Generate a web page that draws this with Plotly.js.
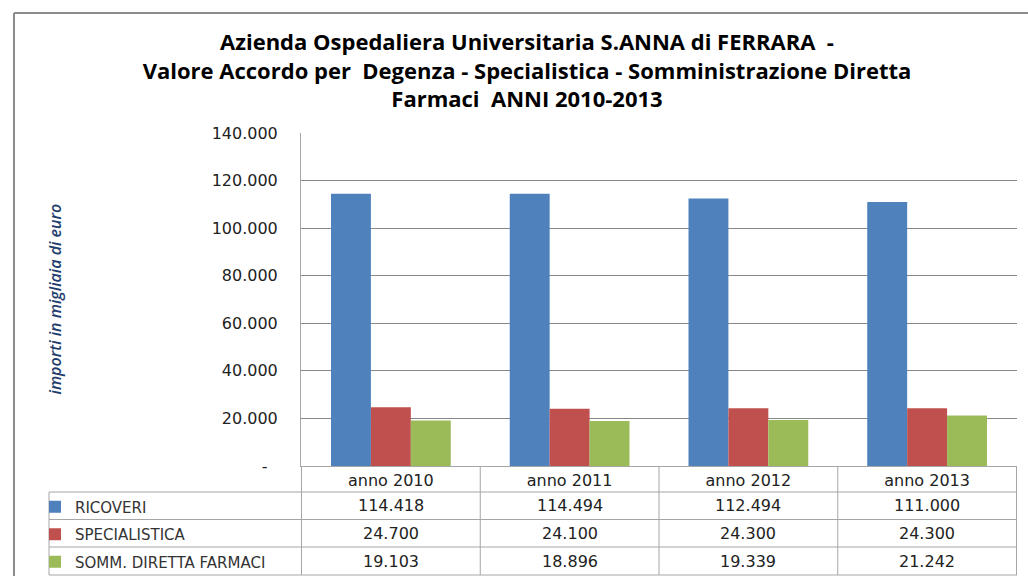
<!DOCTYPE html>
<html>
<head>
<meta charset="utf-8">
<script src="https://cdn.plot.ly/plotly-3.0.1.min.js"></script>
<style>
  html, body { margin: 0; padding: 0; background: #ffffff; }
  #chart { width: 1028px; height: 576px; }
</style>
</head>
<body>
<div id="chart"></div>
<script>
// ---- data ----
var categories = ["anno 2010", "anno 2011", "anno 2012", "anno 2013"];
var seriesNames = ["RICOVERI", "SPECIALISTICA", "SOMM. DIRETTA FARMACI"];
var ricoveri = [114418, 114494, 112494, 111000];
var specialistica = [24700, 24100, 24300, 24300];
var farmaci = [19103, 18896, 19339, 21242];
var yTickValues = [0, 20000, 40000, 60000, 80000, 100000, 120000, 140000];
var yTickLabels = ["-\u00a0\u00a0", "20.000", "40.000", "60.000", "80.000", "100.000", "120.000", "140.000"];
var yTitleText = "importi in migliaia di euro";

var seriesValues = [ricoveri, specialistica, farmaci];
var seriesColors = ["#4F81BD", "#C0504D", "#9BBB59"];

// ---- layout geometry (pixels) ----
var W = 1028, H = 576;
var plotLeft = 301, plotRight = 1017, plotTop = 133, plotBottom = 466;
function px(x) { return (x - plotLeft) / (plotRight - plotLeft); }
function py(y) { return (plotBottom - y) / (plotBottom - plotTop); }

function fmt(v) {
  var s = String(Math.round(v));
  return s.replace(/\B(?=(\d{3})+(?!\d))/g, ".");
}

var gridGray = "#a6a6a6";
var rowLines = [492, 519.5, 547, 575];
var rowCenters = [505.5, 533, 561];

var traces = seriesNames.map(function (name, i) {
  return {
    type: "bar",
    name: name,
    x: categories,
    y: seriesValues[i],
    marker: { color: seriesColors[i], line: { width: 0 } },
    legendgroup: "g" + i,
    hoverinfo: "x+y+name"
  };
});

var shapes = [];
// outer chart border (partially cropped)
shapes.push({ type: "line", xref: "paper", yref: "paper",
  x0: px(14), x1: px(1040), y0: py(13), y1: py(13),
  line: { color: "#8c8c8c", width: 2 } });
shapes.push({ type: "line", xref: "paper", yref: "paper",
  x0: px(14), x1: px(14), y0: py(13), y1: py(590),
  line: { color: "#8c8c8c", width: 2 } });
// table horizontal lines
rowLines.forEach(function (y) {
  shapes.push({ type: "line", xref: "paper", yref: "paper",
    x0: px(49), x1: 1, y0: py(y), y1: py(y),
    line: { color: gridGray, width: 1 } });
});
// table vertical lines at category boundaries
for (var k = 0; k <= categories.length; k++) {
  shapes.push({ type: "line", xref: "x", yref: "paper",
    x0: k - 0.5, x1: k - 0.5, y0: 0, y1: py(575),
    line: { color: gridGray, width: 1 } });
}
// legend column left edge
shapes.push({ type: "line", xref: "paper", yref: "paper",
  x0: px(49), x1: px(49), y0: py(492), y1: py(575),
  line: { color: gridGray, width: 1 } });

var annotations = [];
seriesValues.forEach(function (vals, r) {
  vals.forEach(function (v, c) {
    annotations.push({
      xref: "x", yref: "paper",
      x: categories[c], y: py(rowCenters[r]),
      text: fmt(v), showarrow: false,
      xanchor: "center", yanchor: "middle",
      font: { family: "DejaVu Sans", size: 16, color: "#222222" }
    });
  });
});
// y-axis title (placed far from the tick labels, as in the original)
annotations.push({
  xref: "paper", yref: "paper",
  x: px(54), y: 0.5, textangle: -90,
  text: yTitleText, showarrow: false,
  xanchor: "center", yanchor: "middle",
  font: { family: "Open Sans", size: 16, color: "#1F3E6E", style: "italic", weight: 600 }
});

var layout = {
  width: W, height: H,
  margin: { l: plotLeft, r: W - plotRight, t: plotTop, b: H - plotBottom, pad: 0 },
  paper_bgcolor: "#ffffff",
  plot_bgcolor: "#ffffff",
  separators: ",.",
  barmode: "group",
  bargap: 0.33,
  bargroupgap: 0,
  showlegend: true,
  title: {
    text: "Azienda Ospedaliera Universitaria S.ANNA di FERRARA  -<br>Valore Accordo per  Degenza - Specialistica - Somministrazione Diretta<br>Farmaci  ANNI 2010-2013",
    font: { family: "Open Sans", size: 22, color: "#000000", weight: 700 },
    xref: "container", x: 527 / W, xanchor: "center",
    yref: "container", y: 1 - 50 / H, yanchor: "top"
  },
  legend: {
    xref: "container", x: 35 / W, xanchor: "left",
    yref: "container", y: 1 - 490.5 / H, yanchor: "top",
    bgcolor: "rgba(0,0,0,0)",
    font: { family: "DejaVu Sans", size: 15, color: "#333333" },
    traceorder: "grouped",
    tracegroupgap: 5,
    itemclick: false, itemdoubleclick: false
  },
  xaxis: {
    type: "category",
    showgrid: false,
    showline: true, linecolor: gridGray, linewidth: 1,
    ticks: "",
    tickfont: { family: "DejaVu Sans", size: 16, color: "#222222" },
    ticklabelstandoff: 0,
    fixedrange: true
  },
  yaxis: {
    range: [0, 140000],
    tickmode: "array",
    tickvals: yTickValues,
    ticktext: yTickLabels,
    showgrid: true, gridcolor: "#878787", gridwidth: 1,
    showline: true, linecolor: gridGray, linewidth: 1,
    zeroline: false,
    ticks: "",
    ticklabelstandoff: 19,
    tickfont: { family: "DejaVu Sans", size: 16, color: "#222222" },
    fixedrange: true
  },
  shapes: shapes,
  annotations: annotations
};

Plotly.newPlot("chart", traces, layout, { displayModeBar: false, staticPlot: true });
</script>
</body>
</html>
